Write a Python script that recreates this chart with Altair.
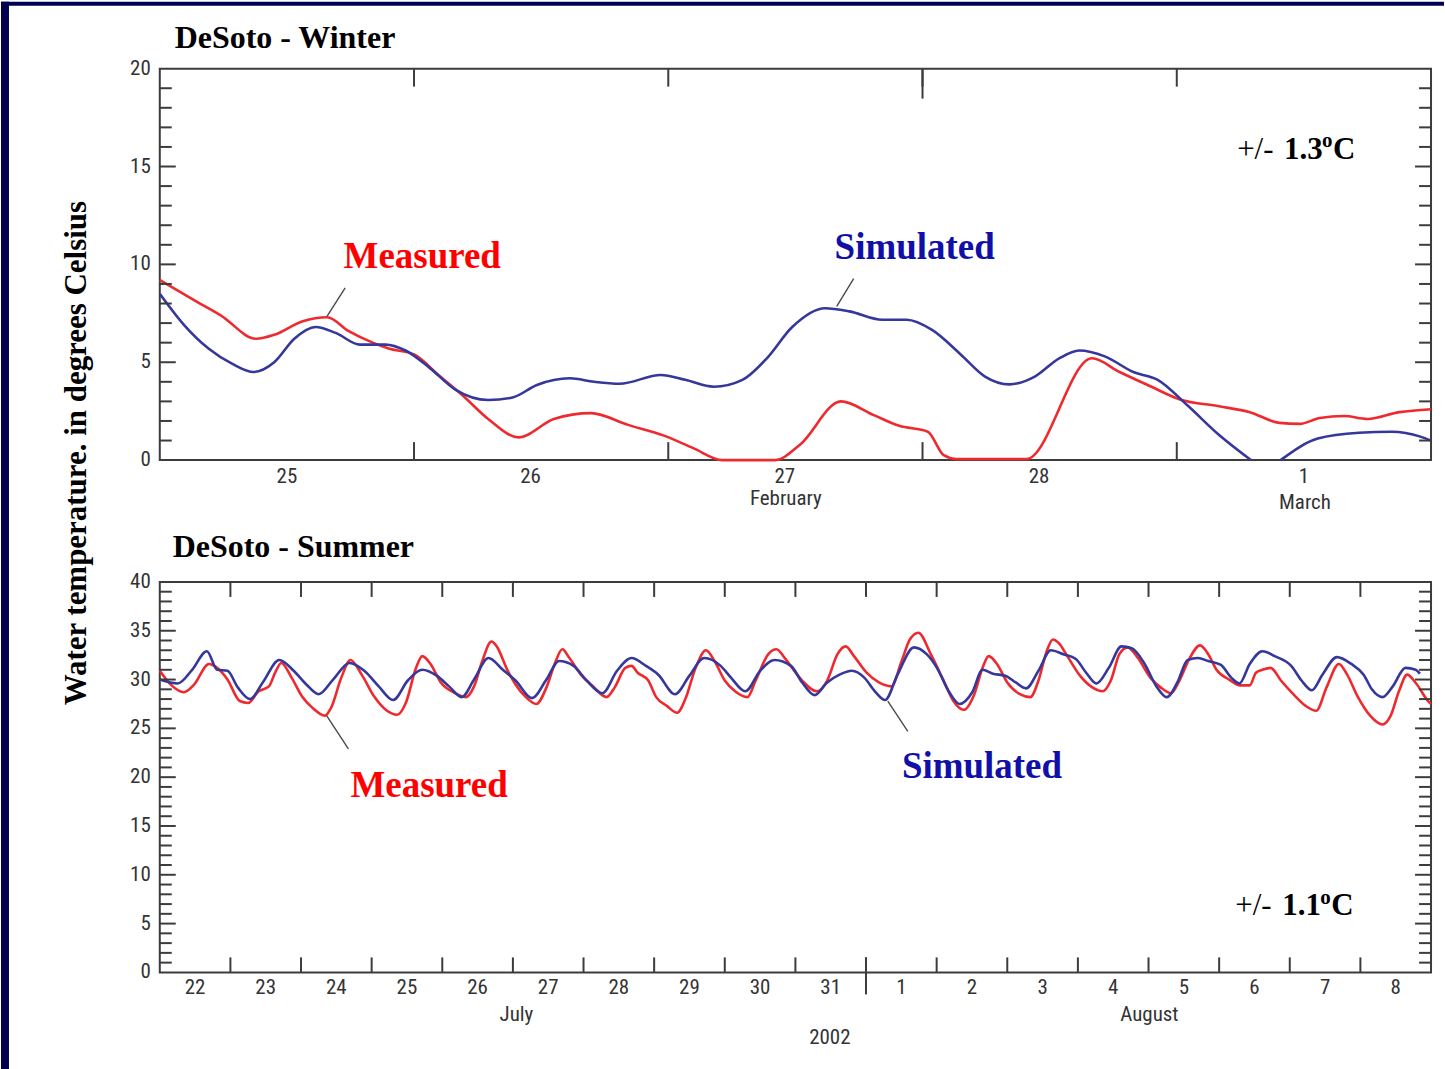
import altair as alt
import pandas as pd

# ---------------- data ----------------
winter_start = "2002-02-25T00:00:00"
winter_end = "2002-03-02T00:00:00"
summer_start = "2002-07-22T00:00:00"
summer_end = "2002-08-09T00:00:00"

# Winter, hours after Feb 25 00:00
w_meas_hours = [0, 3.8, 5.75, 9.1, 10.8, 13.5, 15.8, 17.8, 20.1, 21.6,
                24.0, 26.3, 28.6, 31.0, 33.9, 37.2, 40.7, 44.2, 47.6, 50.4,
                53.1, 58.1, 60.4, 64.3, 67.4, 69.8, 72.5, 74.0, 75.2, 81.8,
                88.0, 90.6, 93.4, 96.3, 100.0, 102.9, 105.7, 107.6, 109.5, 111.8,
                114.0, 117.0, 120.0]
w_meas_temp = [9.2, 8.0, 7.4, 6.2, 6.4, 7.1, 7.3, 6.6, 6.0, 5.7,
               5.4, 4.35, 3.3, 2.1, 1.16, 2.1, 2.4, 1.8, 1.25, 0.6,
               0.0, 0.0, 0.77, 3.0, 2.3, 1.75, 1.45, 0.25, 0.05, 0.05,
               5.2, 4.5, 3.8, 3.1, 2.75, 2.45, 1.9, 1.85, 2.15, 2.25,
               2.1, 2.45, 2.6]

w_sim_hours_a = [0, 2.3, 4.6, 6.9, 8.85, 10.8, 12.7, 14.7, 16.6, 18.9,
                 21.3, 23.2, 25.5, 27.9, 31.0, 33.3, 35.6, 38.7, 41.0, 43.4,
                 47.3, 49.6, 52.3, 55.0, 57.3, 59.7, 62.8, 65.1, 68.2, 70.5,
                 72.9, 75.6, 77.9, 80.2, 82.6, 84.9, 86.8, 89.2, 91.9, 94.2,
                 97.0, 100.0, 103.0]
w_sim_temp_a = [8.5, 6.9, 5.7, 4.9, 4.5, 5.0, 6.2, 6.8, 6.5, 5.9,
                5.9, 5.6, 4.7, 3.6, 3.07, 3.2, 3.84, 4.18, 4.0, 3.9,
                4.35, 4.1, 3.75, 4.1, 5.2, 6.8, 7.76, 7.6, 7.17, 7.17,
                6.65, 5.4, 4.27, 3.87, 4.27, 5.2, 5.6, 5.3, 4.5, 4.1,
                2.8, 1.28, 0.0]
w_sim_hours_b = [105.8, 109.3, 113.2, 116.3, 119.0, 120.0]
w_sim_temp_b = [0.0, 1.1, 1.4, 1.45, 1.2, 1.0]

# Summer, hours after Jul 22 00:00
s_meas_hours = [0, 4.0, 8.2, 11.7, 16.7, 19.5, 23.0, 27.2, 30.0, 33.6,
                37.1, 39.2, 41.3, 44.8, 48.3, 51.9, 56.1, 58.2, 61.7, 64.8,
                68.8, 73.0, 77.2, 80.7, 83.6, 87.1, 89.2, 92.0, 95.5, 99.7,
                104.0, 106.8, 109.6, 112.7, 114.5, 118.1, 120.9, 124.4, 128.0, 131.4,
                134.2, 136.8, 139.2, 143.4, 147.6, 151.8, 154.6, 158.2, 160.3, 162.4,
                166.0, 168.7, 172.3, 175.8, 178.6, 182.1, 185.6, 188.5, 192.0, 195.5,
                199.7, 202.5, 206.8, 209.6, 212.4, 216.6, 218.3, 223.3, 226.8, 230.3,
                233.1, 235.9, 240.2, 244.4, 248.6, 252.1, 254.9, 257.8, 262.0, 266.2,
                269.7, 273.2, 276.8, 279.6, 281.7, 284.5, 288.0, 292.3, 295.8, 298.6,
                301.4, 303.5, 305.6, 308.4, 312.7, 316.9, 320.4, 323.2, 326.1, 328.9,
                332.4, 336.6, 340.1, 343.7, 346.5, 350.0, 353.5, 356.3, 359.1, 363.4,
                366.9, 370.4, 372.5, 374.7, 377.5, 381.0, 385.2, 389.4, 393.0, 396.5,
                400.7, 403.5, 407.0, 411.3, 415.5, 418.3, 421.1, 423.9, 426.7, 431.0,
                432.0]
s_meas_temp = [30.9, 29.4, 28.7, 29.5, 31.6, 31.2, 30.0, 27.8, 27.6, 28.8,
               29.3, 30.7, 31.7, 30.2, 28.3, 27.1, 26.3, 27.1, 30.2, 32.0,
               30.4, 28.2, 26.8, 26.4, 27.6, 31.2, 32.4, 31.6, 29.7, 28.7,
               28.2, 29.3, 31.9, 33.9, 33.4, 31.0, 29.5, 28.2, 27.5, 29.2,
               31.6, 33.1, 32.2, 30.4, 29.2, 28.2, 29.2, 31.2, 31.4, 30.7,
               29.9, 28.2, 27.3, 26.6, 28.0, 31.2, 33.0, 31.9, 29.9, 28.8,
               28.2, 29.9, 32.6, 33.1, 32.2, 30.5, 29.9, 28.8, 29.9, 32.6,
               33.4, 32.4, 30.7, 29.7, 29.3, 31.9, 34.1, 34.8, 32.6, 30.0,
               27.8, 26.9, 28.5, 31.2, 32.4, 31.6, 29.7, 28.5, 28.2, 29.9,
               32.9, 34.1, 33.7, 32.4, 30.4, 29.2, 28.8, 29.9, 32.6, 33.3,
               32.2, 30.2, 29.2, 28.6, 29.9, 32.2, 33.5, 32.6, 31.0, 30.0,
               29.4, 29.4, 30.7, 31.0, 31.2, 29.9, 28.5, 27.3, 26.8, 29.2,
               31.6, 30.5, 28.3, 26.3, 25.4, 26.3, 28.8, 30.5, 29.7, 27.8,
               27.5]

s_sim_hours = [0, 6.1, 11.0, 16.0, 19.5, 23.0, 26.5, 30.7, 35.0, 40.6,
               45.5, 49.8, 54.0, 58.9, 64.5, 69.5, 74.4, 79.3, 84.3, 89.2,
               94.1, 98.3, 102.6, 106.8, 111.7, 116.6, 120.9, 126.5, 131.4, 135.7,
               140.6, 144.8, 150.4, 155.4, 160.3, 165.2, 169.4, 175.1, 180.0, 185.0,
               190.6, 194.1, 199.0, 204.0, 208.9, 214.5, 218.3, 222.5, 226.8, 231.0,
               235.2, 239.4, 243.0, 246.5, 250.7, 256.3, 260.6, 264.1, 268.3, 271.8,
               276.1, 279.6, 283.1, 287.3, 290.9, 294.4, 298.6, 302.8, 307.0, 311.3,
               314.8, 318.3, 322.5, 326.8, 330.3, 334.5, 338.7, 342.2, 345.8, 349.3,
               352.8, 356.3, 360.6, 364.1, 366.9, 370.4, 374.7, 378.9, 384.5, 388.0,
               391.5, 395.1, 400.0, 404.9, 409.1, 411.9, 415.5, 419.0, 423.3, 426.8,
               428.2]
s_sim_temp = [30.0, 29.6, 31.0, 32.9, 31.0, 30.9, 29.2, 28.0, 29.7, 32.0,
              30.9, 29.5, 28.5, 30.0, 31.7, 30.9, 29.3, 27.9, 29.9, 31.0,
              30.4, 29.3, 28.2, 30.0, 32.2, 31.0, 29.9, 28.1, 30.0, 31.9,
              31.4, 30.0, 28.6, 30.9, 32.2, 31.4, 30.5, 28.5, 30.4, 32.2,
              31.4, 30.2, 28.8, 30.9, 32.0, 31.4, 29.7, 28.4, 29.7, 30.5,
              30.9, 30.2, 28.8, 27.9, 30.5, 33.3, 32.6, 31.2, 28.7, 27.5,
              28.7, 31.0, 30.6, 30.4, 29.7, 29.1, 30.9, 33.0, 32.6, 32.1,
              30.7, 29.6, 31.2, 33.4, 33.2, 31.7, 29.3, 28.2, 29.7, 32.0,
              32.2, 31.9, 31.5, 30.2, 29.6, 31.6, 32.9, 32.4, 31.4, 29.9,
              28.9, 30.5, 32.3, 31.6, 30.5, 29.0, 28.2, 29.3, 31.2, 31.0,
              30.6]

# axis labels / ticks
w_day_labels = ["25", "26", "27", "28", "1"]
w_day_label_hours = [12, 35, 59, 83, 108]
w_day_tick_hours = [24, 48, 72, 96]
w_long_top_tick_hours = [72]
w_month_labels = ["February", "March"]
w_month_hours = [59.1, 108.1]
s_day_labels = ["22", "23", "24", "25", "26", "27", "28", "29", "30", "31",
                "1", "2", "3", "4", "5", "6", "7", "8"]
s_day_label_hours = [12 + 24 * i for i in range(18)]
s_day_tick_hours = [24 * i for i in range(1, 18)]
s_month_boundary_hours = [240]
s_month_labels = ["July", "August", "2002"]
s_month_hours = [121.2, 336.3, 227.7]
w_y_labels = [0, 5, 10, 15, 20]
s_y_labels = [0, 5, 10, 15, 20, 25, 30, 35, 40]

assert len(w_meas_hours) == len(w_meas_temp)
assert len(w_sim_hours_a) == len(w_sim_temp_a)
assert len(s_meas_hours) == len(s_meas_temp)
assert len(s_sim_hours) == len(s_sim_temp)

# ---------------- styling ----------------
RED = "#ee2a2f"
BLUE = "#35379a"
RED_TXT = "#ff0000"
BLUE_TXT = "#1010a8"
AXIS_COL = "#3c3c3c"
LABEL_COL = "#333333"
NAVY = "#00004e"
SERIF = "Liberation Serif, Times New Roman, serif"
NARROW = "Liberation Sans Narrow, Roboto Condensed, DejaVu Sans Condensed, sans-serif"

W = 1273
H_W = 392
H_S = 391


def to_times(start, hours):
    t0 = pd.Timestamp(start)
    return [(t0 + pd.Timedelta(hours=float(h))).strftime("%Y-%m-%dT%H:%M:%S") for h in hours]


def dt(ts):
    t = pd.Timestamp(ts)
    return alt.DateTime(year=t.year, month=t.month, date=t.day, hours=t.hour, minutes=t.minute)


def panel(start, end, H, ymax, series, day_labels, day_label_hours, day_tick_hours,
          long_top_hours, boundary_hours, month_labels, month_hours, month_y, day_y,
          ylabels, title, title_dx, title_dy, ann, acc_text, acc_pos, extra_layers, tick_len):
    xs = alt.Scale(domain=[dt(start), dt(end)])
    ys = alt.Scale(domain=[0, ymax], nice=False, zero=False)
    X = lambda f="t": alt.X(f"{f}:T", scale=xs, axis=None, title=None)
    Y = lambda f="temp": alt.Y(f"{f}:Q", scale=ys, axis=None, title=None)

    lines = alt.Chart(series).mark_line(strokeWidth=2.6, interpolate="monotone").encode(
        x=X(), y=Y(),
        color=alt.Color("series:N", legend=None,
                        scale=alt.Scale(domain=["Measured", "Simulated"], range=[RED, BLUE])),
        detail="piece:N",
    )
    layers = [lines]

    # inward y ticks, left and right
    minor = pd.DataFrame({"v": [v for v in range(1, ymax) if v % 5 != 0]})
    major = pd.DataFrame({"v": [v for v in range(5, ymax, 5)]})
    for d, ln in ((minor, 12), (major, 16)):
        layers.append(alt.Chart(d).mark_rule(color=AXIS_COL, strokeWidth=2).encode(
            y=Y("v"), x=alt.value(0), x2=alt.value(ln)))
        layers.append(alt.Chart(d).mark_rule(color=AXIS_COL, strokeWidth=2).encode(
            y=Y("v"), x=alt.value(W), x2=alt.value(W - ln)))

    # x ticks at day boundaries
    xt = pd.DataFrame({"t": to_times(start, day_tick_hours)})
    layers.append(alt.Chart(xt).mark_rule(color=AXIS_COL, strokeWidth=2).encode(
        x=X(), y=alt.value(H), y2=alt.value(H - tick_len)))
    layers.append(alt.Chart(xt).mark_rule(color=AXIS_COL, strokeWidth=2).encode(
        x=X(), y=alt.value(0), y2=alt.value(tick_len)))
    if long_top_hours:
        lt = pd.DataFrame({"t": to_times(start, long_top_hours)})
        layers.append(alt.Chart(lt).mark_rule(color=AXIS_COL, strokeWidth=2).encode(
            x=X(), y=alt.value(0), y2=alt.value(30)))
    if boundary_hours:
        bt = pd.DataFrame({"t": to_times(start, boundary_hours)})
        layers.append(alt.Chart(bt).mark_rule(color=AXIS_COL, strokeWidth=2).encode(
            x=X(), y=alt.value(H + 22), y2=alt.value(H - 15)))

    # tick labels
    dl = pd.DataFrame({"t": to_times(start, day_label_hours), "label": day_labels})
    layers.append(alt.Chart(dl).mark_text(font=NARROW, fontSize=21, color=LABEL_COL,
                                          baseline="middle", align="center").encode(
        x=X(), y=alt.value(H + day_y), text="label:N"))
    yl = pd.DataFrame({"v": ylabels, "label": [str(v) for v in ylabels]})
    layers.append(alt.Chart(yl).mark_text(font=NARROW, fontSize=21, color=LABEL_COL,
                                          baseline="middle", align="right").encode(
        y=Y("v"), x=alt.value(-9), text="label:N"))

    # month labels
    for lab, hr, yy in zip(month_labels, month_hours, month_y):
        md = pd.DataFrame({"t": to_times(start, [hr]), "label": [lab]})
        layers.append(alt.Chart(md).mark_text(font=NARROW, fontSize=21, color=LABEL_COL,
                                              baseline="middle", align="center").encode(
            x=X(), y=alt.value(H + yy), text="label:N"))

    # title
    layers.append(alt.Chart(pd.DataFrame({"label": [title]})).mark_text(
        font=SERIF, fontSize=32, fontWeight="bold", color="black", align="left",
        baseline="alphabetic").encode(x=alt.value(title_dx), y=alt.value(title_dy),
                                      text="label:N"))

    # series annotations with leader lines
    for a in ann:
        adf = pd.DataFrame({"t": to_times(start, [a["h"]]), "temp": [a["T"]], "label": [a["text"]]})
        layers.append(alt.Chart(adf).mark_text(
            font=SERIF, fontSize=37, fontWeight="bold", color=a["color"], align="left",
            baseline="alphabetic").encode(x=X(), y=Y(), text="label:N"))
        ldf = pd.DataFrame({"t": to_times(start, [a["lh1"]]), "temp": [a["lT1"]],
                            "t2": to_times(start, [a["lh2"]]), "temp2": [a["lT2"]]})
        layers.append(alt.Chart(ldf).mark_rule(color="#4a4a4a", strokeWidth=1.4).encode(
            x=X(), x2="t2:T", y=Y(), y2="temp2:Q"))

    # accuracy "+/- x.x oC"
    pdf = pd.DataFrame({"t": to_times(start, [acc_pos[0]]), "temp": [acc_pos[1]]})
    base = alt.Chart(pdf).encode(x=X(), y=Y())
    layers.append(base.mark_text(text="+/-", font=SERIF, fontSize=31, color="black",
                                 align="left", baseline="alphabetic"))
    layers.append(base.mark_text(text=acc_text, font=SERIF, fontSize=31, fontWeight="bold",
                                 color="black", align="left", baseline="alphabetic", dx=47))
    layers.append(base.mark_text(text="o", font=SERIF, fontSize=21, fontWeight="bold",
                                 color="black", align="left", baseline="alphabetic", dx=85, dy=-12))
    layers.append(base.mark_text(text="C", font=SERIF, fontSize=31, fontWeight="bold",
                                 color="black", align="left", baseline="alphabetic", dx=96))

    layers += extra_layers
    return alt.layer(*layers).properties(width=W, height=H)


# winter series table
w_series = pd.concat([
    pd.DataFrame({"t": to_times(winter_start, w_meas_hours), "temp": w_meas_temp,
                  "series": "Measured", "piece": "m"}),
    pd.DataFrame({"t": to_times(winter_start, w_sim_hours_a), "temp": w_sim_temp_a,
                  "series": "Simulated", "piece": "s1"}),
    pd.DataFrame({"t": to_times(winter_start, w_sim_hours_b), "temp": w_sim_temp_b,
                  "series": "Simulated", "piece": "s2"}),
], ignore_index=True)

s_series = pd.concat([
    pd.DataFrame({"t": to_times(summer_start, s_meas_hours), "temp": s_meas_temp,
                  "series": "Measured", "piece": "m"}),
    pd.DataFrame({"t": to_times(summer_start, s_sim_hours), "temp": s_sim_temp,
                  "series": "Simulated", "piece": "s1"}),
], ignore_index=True)

# page decorations: navy frame strips and the shared y title (attached to winter panel)
deco = [
    alt.Chart(pd.DataFrame({"a": [0]})).mark_rect(color=NAVY).encode(
        x=alt.value(-159), x2=alt.value(-151), y=alt.value(-67), y2=alt.value(1002)),
    alt.Chart(pd.DataFrame({"a": [0]})).mark_rect(color=NAVY).encode(
        x=alt.value(-159), x2=alt.value(1286), y=alt.value(-67), y2=alt.value(-63)),
    alt.Chart(pd.DataFrame({"label": ["Water temperature. in degrees Celsius"]})).mark_text(
        font=SERIF, fontSize=31, fontWeight="bold", color="black", angle=270,
        align="center", baseline="alphabetic").encode(
        x=alt.value(-74), y=alt.value(385), text="label:N"),
]

winter = panel(
    winter_start, winter_end, H_W, 20, w_series,
    w_day_labels, w_day_label_hours, w_day_tick_hours, w_long_top_tick_hours, [],
    w_month_labels, w_month_hours, [39, 43], 17, w_y_labels,
    "DeSoto - Winter", 15, -21,
    [dict(text="Measured", color=RED_TXT, h=17.35, T=9.8, lh1=17.5, lT1=8.8, lh2=15.8, lT2=7.35),
     dict(text="Simulated", color=BLUE_TXT, h=63.7, T=10.25, lh1=65.5, lT1=9.27, lh2=63.9, lT2=7.85)],
    "1.3", (101.7, 15.4), deco, 18)

summer = panel(
    summer_start, summer_end, H_S, 40, s_series,
    s_day_labels, s_day_label_hours, s_day_tick_hours, [], s_month_boundary_hours,
    s_month_labels, s_month_hours, [43, 43, 66], 16, s_y_labels,
    "DeSoto - Summer", 13, -25,
    [dict(text="Measured", color=RED_TXT, h=64.8, T=18.0, lh1=56.7, lT1=26.3, lh2=64.1, lT2=22.9),
     dict(text="Simulated", color=BLUE_TXT, h=252.2, T=19.94, lh1=247.4, lT1=27.8, lh2=254.2, lT2=24.7)],
    "1.1", (365.5, 5.83), [], 15)

chart = alt.vconcat(winter, summer, spacing=122, bounds="flush").properties(
    padding=0, background="white"
).configure_view(stroke=AXIS_COL, strokeWidth=2)

chart.save("out.html", embed_options={"renderer": "svg", "actions": False})
